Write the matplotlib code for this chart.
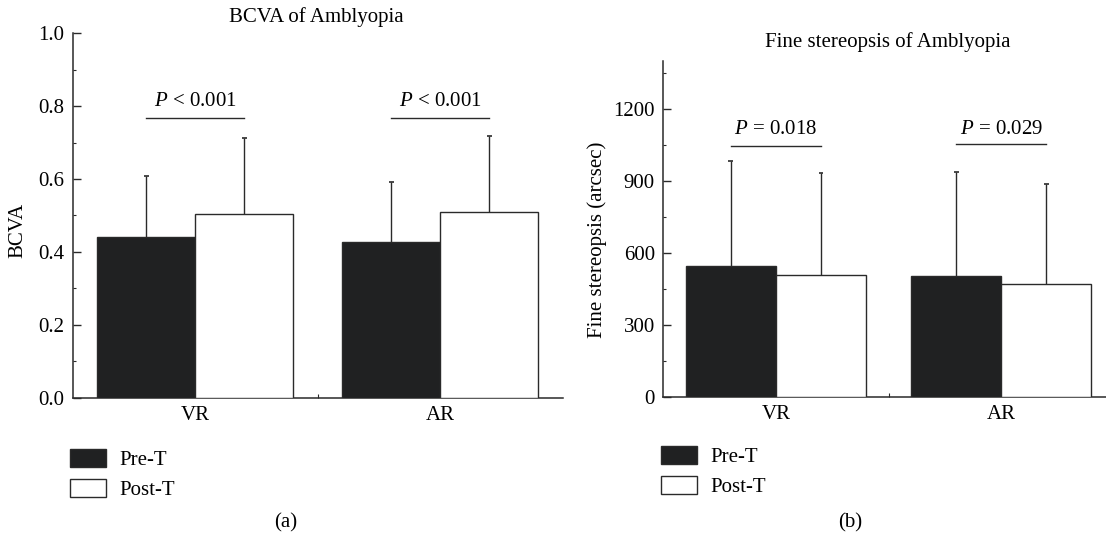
import matplotlib
matplotlib.use("Agg")
import matplotlib.pyplot as plt
from matplotlib.ticker import MultipleLocator, FixedLocator
import numpy as np

plt.rcParams['font.family'] = ['Liberation Serif', 'DejaVu Serif']
plt.rcParams['mathtext.fontset'] = 'custom'
plt.rcParams['mathtext.rm'] = 'Liberation Serif'
plt.rcParams['mathtext.it'] = 'Liberation Serif:italic'

# data
groups = ['VR', 'AR']
series = ['Pre-T', 'Post-T']

bcva_pre = [0.440, 0.428]
bcva_pre_sd = [0.168, 0.165]
bcva_post = [0.503, 0.510]
bcva_post_sd = [0.210, 0.208]
bcva_p = ['$\\it{P}$ < 0.001', '$\\it{P}$ < 0.001']

stereo_pre = [547, 502]
stereo_pre_sd = [436, 436]
stereo_post = [508, 471]
stereo_post_sd = [424, 418]
stereo_p = ['$\\it{P}$ = 0.018', '$\\it{P}$ = 0.029']

DARK = '#202122'
EDGE = '#2a2a2a'
FS = 15


def upper_err(ax, xs, vals, sds, cap=0.011):
    # one-sided (upward) error bars with a cap at the top only
    xs = np.asarray(xs)
    tops = np.asarray(vals) + np.asarray(sds)
    ax.vlines(xs, vals, tops, colors=EDGE, linewidth=1.0, zorder=2)
    ax.hlines(tops, xs - cap, xs + cap, colors=EDGE, linewidth=1.2, zorder=2)


def draw_panel(ax, pre, pre_sd, post, post_sd, ptext, sig_y, txt_y):
    x = np.arange(len(groups))
    w = 0.4
    b1 = ax.bar(x - w / 2, pre, w, color=DARK, edgecolor=EDGE, linewidth=1.0,
                label=series[0], zorder=3)
    b2 = ax.bar(x + w / 2, post, w, color='white', edgecolor=EDGE, linewidth=1.0,
                label=series[1], zorder=3)
    upper_err(ax, x - w / 2, pre, pre_sd)
    upper_err(ax, x + w / 2, post, post_sd)
    # significance bars
    for i in range(len(groups)):
        ax.plot([x[i] - w / 2, x[i] + w / 2], [sig_y[i], sig_y[i]], color=EDGE, lw=1.0)
        ax.text(x[i], txt_y, ptext[i], ha='center', va='center', fontsize=FS)

    ax.set_xticks(x)
    ax.set_xticklabels(groups, fontsize=FS)
    ax.xaxis.set_minor_locator(FixedLocator([0.5]))
    ax.tick_params(axis='x', which='major', length=0, pad=6)
    ax.tick_params(axis='x', which='minor', direction='in', length=3, width=0.8, color=EDGE)
    ax.tick_params(axis='y', which='major', direction='in', length=6, width=1.0,
                   color=EDGE, labelsize=FS, pad=6)
    ax.tick_params(axis='y', which='minor', direction='in', length=2, width=0.8, color=EDGE)
    for s in ['top', 'right']:
        ax.spines[s].set_visible(False)
    for s in ['left', 'bottom']:
        ax.spines[s].set_color(EDGE)
        ax.spines[s].set_linewidth(1.1)
    return b1, b2


fig = plt.figure(figsize=(11.06, 5.37), dpi=100)

# (a) BCVA
ax1 = fig.add_axes([0.0657, 0.2594, 0.4433, 0.6786])
h = draw_panel(ax1, bcva_pre, bcva_pre_sd, bcva_post, bcva_post_sd, bcva_p,
               [0.768, 0.768], 0.812)
ax1.set_xlim(-0.5, 1.5)
ax1.set_ylim(0, 1.0)
ax1.yaxis.set_major_locator(MultipleLocator(0.2))
ax1.yaxis.set_minor_locator(MultipleLocator(0.1))
ax1.set_yticklabels([f'{v:.1f}' for v in ax1.get_yticks()])
ax1.set_ylabel('BCVA', fontsize=FS)
ax1.yaxis.set_label_coords(-0.093, 0.46)
fig.text(316.5 / 1106, 1 - 17 / 537, 'BCVA of Amblyopia', ha='center', va='center', fontsize=FS)
ax1.legend(handles=list(h), loc='upper left', bbox_to_anchor=(70 / 1106, 1 - 449 / 537),
           bbox_transform=fig.transFigure, frameon=False, fontsize=FS,
           handlelength=1.75, handleheight=0.95, handletextpad=0.6,
           labelspacing=0.42, borderpad=0, borderaxespad=0)
fig.text(286 / 1106, 1 - 523 / 537, '(a)', ha='center', va='center', fontsize=FS)

# (b) Fine stereopsis
ax2 = fig.add_axes([0.5997, 0.2613, 0.4003, 0.6251])
h = draw_panel(ax2, stereo_pre, stereo_pre_sd, stereo_post, stereo_post_sd, stereo_p,
               [1046, 1052], 1114)
ax2.set_xlim(-0.5, 1.465)
ax2.set_ylim(0, 1400)
ax2.yaxis.set_major_locator(FixedLocator([0, 300, 600, 900, 1200]))
ax2.yaxis.set_minor_locator(FixedLocator([150, 450, 750, 1050, 1350]))
ax2.set_ylabel('Fine stereopsis (arcsec)', fontsize=FS)
ax2.yaxis.set_label_coords(-0.127, 0.467)
fig.text(888 / 1106, 1 - 41.7 / 537, 'Fine stereopsis of Amblyopia', ha='center', va='center',
         fontsize=FS)
ax2.legend(handles=list(h), loc='upper left', bbox_to_anchor=(661 / 1106, 1 - 446 / 537),
           bbox_transform=fig.transFigure, frameon=False, fontsize=FS,
           handlelength=1.75, handleheight=0.95, handletextpad=0.6,
           labelspacing=0.42, borderpad=0, borderaxespad=0)
fig.text(850 / 1106, 1 - 523 / 537, '(b)', ha='center', va='center', fontsize=FS)

fig.savefig('out.png', dpi=100)
